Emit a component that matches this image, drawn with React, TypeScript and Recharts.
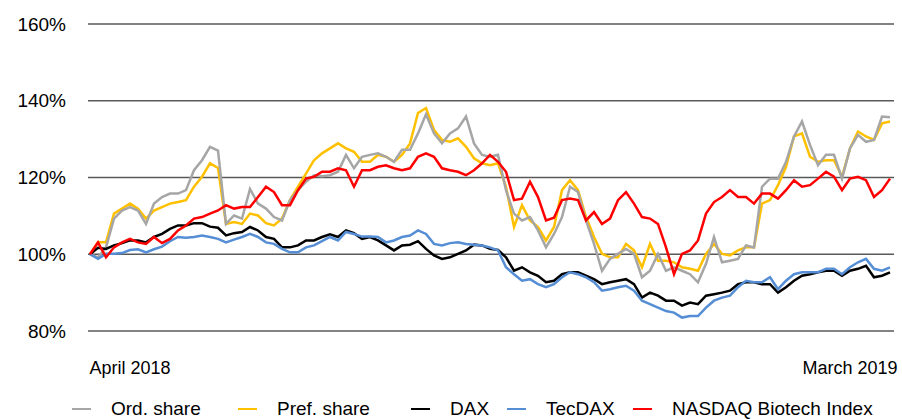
import React from "react";
import { LineChart, Line, XAxis, YAxis, CartesianGrid } from "recharts";

// indexed share performance, April 2018 = 100%
const ordShare = [
  100, 99.2, 101.8, 109.3, 111.4, 112.3, 111.4, 107.9, 113.2, 114.9, 115.8, 115.8, 116.7, 121.9, 124.5, 128.0, 127.0, 107.9, 110.1, 109.3,
  117.0, 113.2, 111.9, 109.7, 108.8, 114.1, 116.7, 118.9, 120.6, 120.3, 120.6, 121.5, 125.9, 122.4, 125.4, 125.9, 126.3, 125.4, 124.1, 127.2,
  127.2, 131.5, 136.5, 131.5, 128.9, 131.5, 132.8, 135.9, 128.9, 125.9, 125.4, 125.9, 116.7, 110.6, 108.8, 109.7, 106.2, 101.8, 105.3, 109.7,
  117.6, 116.2, 108.8, 102.7, 95.7, 98.8, 100.1, 101.4, 100.1, 94.0, 95.7, 100.1, 95.7, 96.6, 95.7, 94.8, 92.7, 97.5, 104.5, 97.9,
  98.3, 98.8, 102.3, 101.8, 117.6, 119.7, 119.7, 124.1, 130.7, 134.6, 128.5, 123.2, 125.9, 125.9, 119.7, 127.6, 131.1, 129.3, 129.8, 135.9, 135.7,
];

const prefShare = [
  100, 103.1, 103.1, 110.6, 111.9, 113.2, 111.9, 109.3, 111.4, 112.3, 113.2, 113.6, 114.1, 117.6, 120.2, 123.7, 122.5, 107.9, 108.4, 107.9,
  110.6, 110.1, 108.1, 107.5, 109.3, 114.1, 117.6, 121.0, 124.5, 126.3, 127.6, 128.9, 127.6, 126.7, 124.1, 124.1, 125.9, 125.4, 124.1, 125.9,
  128.9, 136.8, 138.1, 132.4, 129.8, 129.3, 130.2, 128.0, 125.0, 123.7, 123.2, 123.7, 117.6, 107.1, 112.8, 108.8, 107.1, 103.6, 107.1, 116.7,
  119.3, 116.7, 109.7, 104.5, 100.1, 99.2, 99.2, 102.7, 101.0, 96.6, 102.7, 98.3, 98.3, 97.9, 96.6, 96.2, 95.7, 100.1, 102.7, 100.1,
  99.7, 101.0, 101.8, 101.8, 113.2, 114.1, 118.0, 122.8, 130.7, 131.5, 125.4, 124.1, 124.5, 124.5, 120.2, 127.6, 132.0, 130.7, 129.8, 134.1, 134.6,
];

const dax = [
  100, 101.7, 101.4, 102.3, 102.9, 103.6, 103.6, 103.1, 104.5, 105.3, 106.6, 107.5, 107.5, 108.1, 108.1, 107.2, 106.9, 104.9, 105.5, 105.8,
  107.1, 106.2, 104.5, 104.0, 101.8, 101.8, 102.3, 103.6, 103.6, 104.5, 105.2, 104.5, 106.2, 105.5, 104.0, 104.5, 103.6, 102.3, 101.0, 102.3,
  102.5, 103.4, 101.4, 99.7, 98.8, 99.2, 100.1, 101.0, 102.5, 102.3, 101.4, 101.1, 99.2, 95.7, 96.6, 95.3, 94.4, 92.7, 93.1, 94.8,
  95.3, 95.3, 94.4, 93.5, 92.2, 92.7, 93.1, 93.5, 92.2, 88.7, 90.0, 89.2, 87.9, 87.9, 86.6, 87.4, 87.0, 89.2, 89.6, 90.0,
  90.5, 92.2, 92.7, 92.7, 92.2, 92.2, 90.0, 91.4, 93.1, 94.4, 94.8, 95.3, 95.7, 95.7, 94.4, 95.7, 96.2, 97.0, 94.0, 94.4, 95.3,
];

const tecDax = [
  100, 98.8, 100.1, 100.1, 100.3, 101.1, 101.3, 100.5, 101.3, 102.0, 103.4, 104.5, 104.3, 104.5, 104.9, 104.5, 104.0, 103.1, 103.8, 104.5,
  105.3, 104.5, 103.1, 102.7, 101.4, 100.5, 100.5, 101.8, 102.3, 103.4, 104.5, 103.6, 105.8, 105.3, 104.6, 104.6, 104.5, 103.1, 103.6, 104.5,
  104.9, 106.2, 105.3, 102.7, 102.3, 102.9, 103.1, 102.7, 102.5, 102.3, 101.8, 101.0, 96.6, 94.8, 93.1, 93.5, 92.2, 91.4, 92.2, 94.0,
  95.3, 94.8, 94.0, 92.7, 90.5, 90.9, 91.4, 91.8, 90.5, 87.9, 87.0, 86.1, 85.2, 84.8, 83.5, 83.9, 83.9, 86.1, 87.9, 88.7,
  89.2, 91.4, 93.1, 92.7, 92.7, 94.0, 90.9, 93.1, 94.8, 95.3, 95.3, 95.3, 96.2, 96.2, 94.8, 96.6, 97.9, 98.8, 96.2, 95.7, 96.6,
];

const nasdaqBiotech = [
  100, 103.1, 99.2, 101.8, 103.1, 104.0, 103.1, 102.7, 104.5, 102.9, 104.0, 106.2, 107.5, 109.3, 109.7, 110.6, 111.4, 112.8, 111.9, 112.3,
  112.3, 114.9, 117.6, 116.2, 112.8, 112.8, 116.7, 119.7, 120.2, 121.5, 121.5, 122.4, 121.9, 117.6, 121.9, 121.9, 122.8, 123.2, 122.4, 121.9,
  122.4, 125.4, 126.3, 125.4, 122.4, 121.9, 121.5, 120.6, 121.9, 123.7, 125.9, 124.1, 121.5, 114.1, 114.5, 118.9, 114.9, 108.8, 109.5, 114.1,
  114.5, 114.1, 108.8, 111.0, 107.9, 109.3, 114.1, 116.2, 113.2, 109.7, 109.3, 107.9, 101.8, 94.8, 100.1, 101.0, 103.6, 110.6, 113.6, 114.9,
  116.7, 114.9, 114.9, 113.2, 115.8, 115.8, 114.5, 116.7, 119.3, 117.6, 118.0, 119.7, 121.5, 120.2, 116.7, 119.7, 120.2, 119.3, 114.9, 116.7, 119.7,
];

const yTicks = [80, 100, 120, 140, 160];
const xLabels = ["April 2018", "March 2019"];

const data = ordShare.map((v, i) => ({
  i,
  ord: v,
  pref: prefShare[i],
  dax: dax[i],
  tec: tecDax[i],
  nbi: nasdaqBiotech[i],
}));

// drawing order: later = on top
const series = [
  { key: "pref", name: "Pref. share", color: "#ffc000" },
  { key: "ord", name: "Ord. share", color: "#a6a6a6" },
  { key: "dax", name: "DAX", color: "#000000" },
  { key: "tec", name: "TecDAX", color: "#558ed5" },
  { key: "nbi", name: "NASDAQ Biotech Index", color: "#ff0000" },
];

const legendOrder = ["ord", "pref", "dax", "tec", "nbi"];
const legendLeft = [72, 238, 411, 507, 633];

const font = '"Liberation Sans Narrow", "Liberation Sans", Arial, sans-serif';

export default function App() {
  const xTickPos = [5, 95];
  return (
    <div style={{ position: "relative", width: 902, height: 419, overflow: "hidden", fontFamily: font, background: "#fff" }}>
      <style>{`body{margin:0}`}</style>
      <LineChart
        width={902}
        height={419}
        data={data}
        margin={{ top: 24, right: 8, left: 0, bottom: 48 }}
      >
        <CartesianGrid vertical={false} stroke="#595959" strokeWidth={1.5} />
        <XAxis
          type="number"
          dataKey="i"
          domain={[-0.25, 100.5]}
          ticks={xTickPos}
          tickFormatter={(v) => xLabels[xTickPos.indexOf(v)]}
          axisLine={false}
          tickLine={false}
          tickMargin={24}
          height={40}
          tick={{ fill: "#000", fontSize: 18, fontFamily: font }}
        />
        <YAxis
          domain={[80, 160]}
          ticks={yTicks}
          tickFormatter={(v) => `${v}%`}
          axisLine={false}
          tickLine={false}
          tickMargin={16}
          width={88}
          tick={{ fill: "#000", fontSize: 19, fontFamily: font }}
        />
        {series.map((s) => (
          <Line
            key={s.key}
            dataKey={s.key}
            name={s.name}
            stroke={s.color}
            strokeWidth={2.5}
            dot={false}
            type="linear"
            isAnimationActive={false}
          />
        ))}
      </LineChart>
      {legendOrder.map((k, idx) => {
        const s = series.find((x) => x.key === k)!;
        return (
          <div
            key={k}
            style={{
              position: "absolute",
              left: legendLeft[idx],
              top: 398,
              display: "flex",
              alignItems: "center",
              fontSize: 19,
              color: "#000",
              whiteSpace: "nowrap",
            }}
          >
            <span style={{ display: "inline-block", width: 19, height: 2.5, background: s.color, marginRight: 20 }} />
            <span>{s.name}</span>
          </div>
        );
      })}
    </div>
  );
}
